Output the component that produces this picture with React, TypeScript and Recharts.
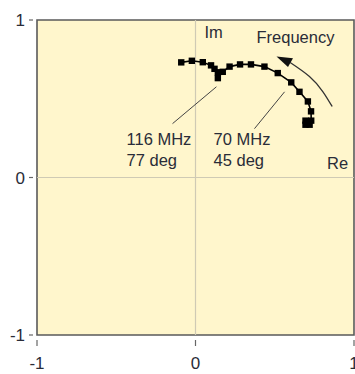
import React from 'react';
import {
  ComposedChart,
  Scatter,
  Line,
  XAxis,
  YAxis,
  ReferenceArea,
  ReferenceLine,
  ReferenceDot,
} from 'recharts';

// Measured reflection trace: real and imaginary parts, in sweep order
const reValues = [-0.09, -0.023, 0.046, 0.098, 0.12, 0.141, 0.141, 0.172, 0.215, 0.281, 0.35, 0.435, 0.519, 0.604, 0.656, 0.709, 0.729, 0.73, 0.72, 0.694, 0.694];
const imValues = [0.731, 0.741, 0.732, 0.712, 0.69, 0.668, 0.631, 0.671, 0.704, 0.718, 0.718, 0.704, 0.663, 0.604, 0.544, 0.483, 0.42, 0.361, 0.335, 0.335, 0.361];

// Axis ticks
const axisTicks = [-1, 0, 1];

// "Frequency" direction arc and its arrow tip
const arcRe = [0.597, 0.719, 0.803, 0.862];
const arcIm = [0.73, 0.641, 0.546, 0.451];
const arrowTip = { x: 0.511, y: 0.768 };

// Leader lines from the trace to the callouts
const leaders = [
  [{ x: 0.132, y: 0.576 }, { x: -0.145, y: 0.342 }],
  [{ x: 0.562, y: 0.544 }, { x: 0.372, y: 0.31 }],
];

// Text annotations (anchored at their left baseline)
const notes = [
  { x: -0.435, y: 0.209, text: '116 MHz' },
  { x: -0.435, y: 0.07, text: '77 deg' },
  { x: 0.114, y: 0.209, text: '70 MHz' },
  { x: 0.114, y: 0.07, text: '45 deg' },
  { x: 0.83, y: 0.054, text: 'Re' },
  { x: 0.057, y: 0.886, text: 'Im' },
  { x: 0.385, y: 0.854, text: 'Frequency' },
];

const trace = reValues.map((re, i) => ({ x: re, y: imValues[i] }));
const arc = arcRe.map((re, i) => ({ x: re, y: arcIm[i] }));

const FONT = '"Liberation Sans", Arial, sans-serif';
const TEXT = '#2a2c38';

const Square = (props: any) => {
  const { cx, cy } = props;
  if (cx == null || cy == null) return null;
  return <rect x={cx - 3.2} y={cy - 3.2} width={6.4} height={6.4} fill="#000" />;
};

const XTick = (props: any) => {
  const { x, y, payload } = props;
  return (
    <g>
      <line x1={x} x2={x} y1={y + 5} y2={y + 11} stroke="#666" strokeWidth={1.2} />
      <text x={x} y={y + 34} textAnchor="middle" fontFamily={FONT} fontSize={17} fill={TEXT}>
        {payload.value}
      </text>
    </g>
  );
};

const YTick = (props: any) => {
  const { x, y, payload } = props;
  return (
    <g>
      <line x1={x - 8} x2={x - 4} y1={y} y2={y} stroke="#666" strokeWidth={1.2} />
      <text x={x - 12} y={y + 6} textAnchor="end" fontFamily={FONT} fontSize={17} fill={TEXT}>
        {payload.value}
      </text>
    </g>
  );
};

const noteShape = (text: string) => (props: any) => {
  const { cx, cy } = props;
  return (
    <text x={cx} y={cy} fontFamily={FONT} fontSize={16.5} fill={TEXT}>
      {text}
    </text>
  );
};

const ArrowHead = (props: any) => {
  const { cx, cy } = props;
  return (
    <polygon
      points={`${cx},${cy} ${cx + 16.5},${cy + 1.8} ${cx + 11.5},${cy + 10.5}`}
      fill="#111"
    />
  );
};

export default function App() {
  return (
    <div style={{ position: 'absolute', left: 0, top: 0 }}>
      <ComposedChart
        width={355}
        height={374}
        margin={{ top: 20, right: 1, bottom: 0, left: 0 }}
      >
        <XAxis
          type="number"
          dataKey="x"
          domain={[-1, 1]}
          ticks={axisTicks}
          allowDataOverflow
          axisLine={false}
          tickLine={false}
          tickSize={0}
          tickMargin={0}
          height={39}
          tick={<XTick />}
          interval={0}
        />
        <YAxis
          type="number"
          dataKey="y"
          domain={[-1, 1]}
          ticks={axisTicks}
          allowDataOverflow
          axisLine={false}
          tickLine={false}
          tickSize={0}
          tickMargin={0}
          width={37}
          tick={<YTick />}
          interval={0}
        />
        <ReferenceArea x1={-1} x2={1} y1={-1} y2={1} fill="#FFF6CC" fillOpacity={1} stroke="#5a5a5a" strokeWidth={1.6} />
        <ReferenceLine x={0} stroke="#cfcab4" strokeWidth={1.2} />
        <ReferenceLine y={0} stroke="#cfcab4" strokeWidth={1.2} />
        {leaders.map((seg, i) => (
          <ReferenceLine key={i} segment={seg} stroke="#444" strokeWidth={1} />
        ))}
        <Line
          data={arc}
          dataKey="y"
          type="natural"
          stroke="#333"
          strokeWidth={1.3}
          dot={false}
          activeDot={false}
          isAnimationActive={false}
        />
        <ReferenceDot x={arrowTip.x} y={arrowTip.y} shape={<ArrowHead />} />
        <Scatter
          data={trace}
          dataKey="y"
          line={{ stroke: '#000', strokeWidth: 1.6 }}
          lineType="joint"
          shape={<Square />}
          isAnimationActive={false}
        />
        {notes.map((n, i) => (
          <ReferenceDot key={i} x={n.x} y={n.y} shape={noteShape(n.text)} />
        ))}
      </ComposedChart>
    </div>
  );
}
